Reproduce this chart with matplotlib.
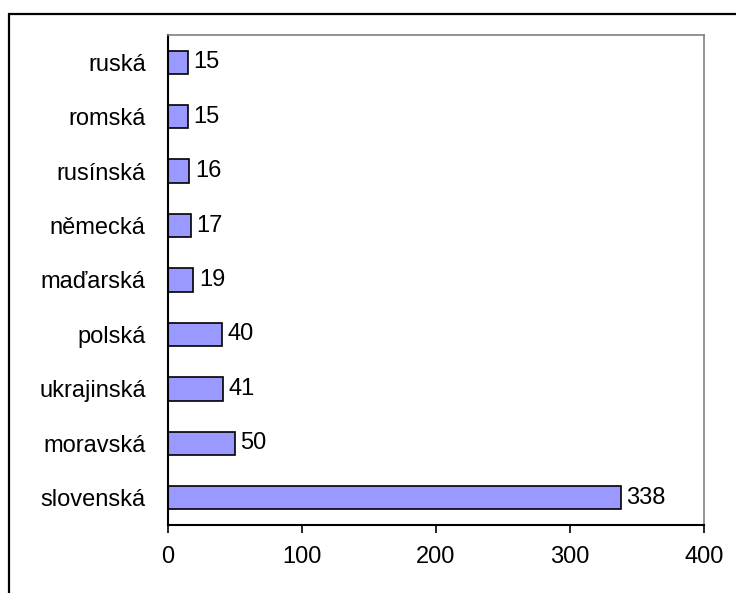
import matplotlib.pyplot as plt
from matplotlib.patches import Rectangle

plt.rcParams["font.family"] = ["Liberation Sans", "DejaVu Sans"]

# categories from bottom to top
languages = ["slovenská", "moravská", "ukrajinská", "polská", "maďarská",
             "německá", "rusínská", "romská", "ruská"]
counts = [338, 50, 41, 40, 19, 17, 16, 15, 15]
x_ticks = [0, 100, 200, 300, 400]

fig = plt.figure(figsize=(7.36, 5.93), dpi=100)

# outer frame of the chart object
fig.patches.append(Rectangle((9 / 736, -0.05), 1.0, 1 - 14 / 593 + 0.05,
                             transform=fig.transFigure, fill=False,
                             edgecolor="black", linewidth=1.6))

ax = fig.add_axes([168 / 736, 1 - 525 / 593, 536 / 736, 490 / 593])
bars = ax.barh(range(len(languages)), counts, height=0.43,
               color="#9999FF", edgecolor="black", linewidth=1.2)
ax.bar_label(bars, labels=[str(c) for c in counts], padding=4, fontsize=17)

ax.set_xlim(0, 400)
ax.set_ylim(-0.5, len(languages) - 0.5)
ax.set_xticks(x_ticks)
ax.set_yticks(range(len(languages)))
ax.set_yticklabels(languages)
ax.tick_params(axis="x", length=6, width=1.2, labelsize=17, pad=9)
ax.tick_params(axis="y", length=0, labelsize=17, pad=16)

for side in ["top", "right"]:
    ax.spines[side].set_color("#808080")
    ax.spines[side].set_linewidth(1.2)
for side in ["left", "bottom"]:
    ax.spines[side].set_color("black")
    ax.spines[side].set_linewidth(1.5)

plt.savefig("out.png", dpi=100)
